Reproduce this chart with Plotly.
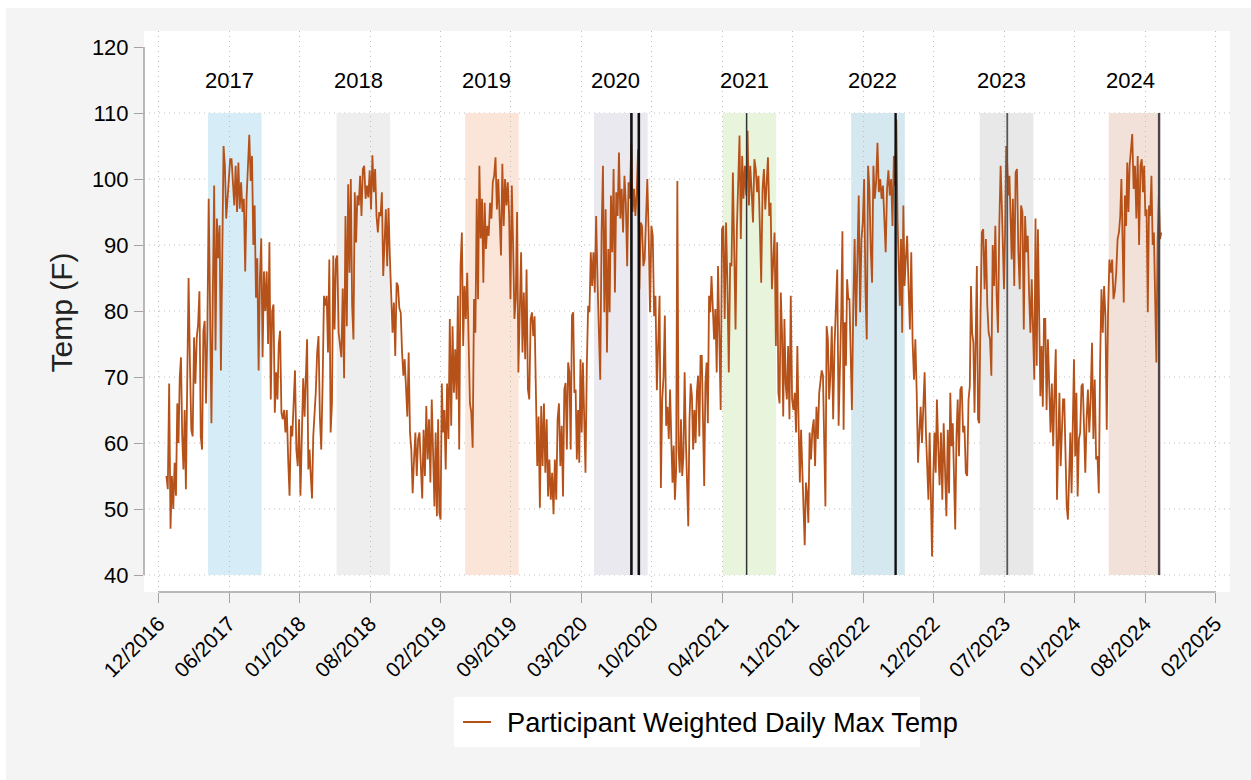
import pandas as pd
import plotly.graph_objects as go

# ---------------- data (°F), one list of readings per calendar month ----------------
t2017 = [
    [55, 53, 69, 47, 55, 50, 57, 52],
    [66, 60, 70, 73, 61, 56, 65, 53],
    [69, 85, 72, 62, 61, 76, 69, 76],
    [78, 83, 61, 59, 77, 78.5, 66, 77],
    [97, 77, 63, 82, 99, 74, 94, 88],
    [93, 71, 90, 105, 102, 94, 97, 100],
    [103, 103, 100, 96, 102, 95, 102.5, 95.5],
    [99.5, 95, 97, 86, 97, 103, 106.7, 99.7],
    [103.5, 90, 96, 82, 88, 71, 85, 91],
    [73, 86, 80, 86, 75, 90.4, 66.6, 80],
    [81, 64.6, 70.7, 66.6, 75, 77, 64.6, 63.6],
    [65, 61.6, 65, 57.5, 52, 62.6, 61, 66],
]
t2018 = [
    [71, 59, 56.5, 63.6, 52, 61, 69.8, 64],
    [71.7, 75.7, 56, 59, 55, 51.6, 61, 64],
    [67.7, 73.7, 76.2, 64, 59, 69, 82.3, 80.8],
    [82.3, 73.7, 87.8, 61.6, 66, 88.4, 77.2, 87.8],
    [88.4, 76.7, 74.7, 73, 83.4, 69.8, 94.4, 77.7],
    [99.2, 85.8, 100, 80.8, 75.7, 98, 90.4, 97.5],
    [96, 100.5, 94.4, 101.5, 102, 97, 99, 97.2],
    [101.3, 95.4, 103.6, 98, 101.5, 94.4, 91.9, 95],
    [94.4, 98, 85.3, 90, 95.4, 86.8, 95.6, 88.4],
    [81.8, 76.7, 81.3, 73.2, 84.3, 83.8, 80.4, 79.8],
    [73.7, 70.2, 72.7, 67.1, 64, 73.7, 61.6, 59],
    [52.4, 57.5, 61.6, 55, 60.6, 61.6, 55.6, 51.6],
]
t2019 = [
    [62, 55, 65.6, 57.5, 63.6, 54, 66.6, 57],
    [50.4, 61.6, 48.9, 63.6, 49.4, 48.4, 69, 61.6],
    [65, 56, 69, 60.6, 78.8, 62.6, 77.7, 67.6],
    [74.2, 66.6, 82.3, 59, 86.8, 91.9, 74.7, 83.8],
    [78.8, 85.8, 72.7, 66, 64.6, 59.3, 81.8, 76.7],
    [97, 81.8, 102, 91, 97, 84.3, 96.4, 89.4],
    [92.9, 91.4, 96.4, 94, 99.5, 100.5, 103.3, 95.4],
    [100, 92.4, 88.4, 102.3, 92.9, 100, 96, 99.5],
    [94.4, 81.8, 99, 90, 78.8, 81.8, 95, 70.7],
    [80.3, 88.9, 73.7, 82.8, 72.7, 86.3, 68.1, 66.6],
    [78.8, 79.8, 76.2, 79.2, 67.6, 56.5, 64, 50.2],
    [65.6, 56.5, 66, 55.5, 63.6, 51.9, 57.5, 51.4],
]
t2020 = [
    [55.5, 49.2, 57.5, 51.4, 63.6, 66, 56.5, 62.6],
    [51.9, 68.1, 69.1, 59, 72.2, 70.7, 59, 79.3],
    [79.8, 67.6, 68.1, 57.5, 65, 57, 72.7, 61.6, 72.2],
    [64, 55.5, 71.7, 80.8, 79.8, 88.9, 83.8, 88.9],
    [82.8, 94.4, 84.8, 75.2, 69.6, 91.9, 102, 79.8],
    [95.4, 73.7, 89.4, 79.8, 97.5, 88.9, 101.5, 82.8],
    [98, 94.4, 104, 94, 98.5, 91.9, 100.5, 96.4],
    [86.8, 99.5, 97, 105.5, 95, 98.5, 94.4, 98],
    [104.5, 83.3, 93.4, 92.9, 86.8, 87.8, 95.4, 100],
    [91.9, 79.8, 92.9, 91.4, 79.2, 82.3, 68, 75.7],
    [82.3, 53.2, 66.6, 70, 79.3, 62.6, 65.5, 60.6],
    [68.1, 60.6, 54, 59.6, 51.4, 56, 99.7, 59, 55.5],
]
t2021 = [
    [63.6, 55, 58, 70.7, 60.6, 54, 47.4, 63.6, 69],
    [67.1, 59, 65, 60, 67.6, 70.2, 61, 73.2],
    [73.2, 63.6, 53.5, 69, 72.2, 63, 82.3, 79.8, 85.3],
    [80.8, 75.7, 80.3, 70.7, 86.8, 77.2, 65, 92.4],
    [92.9, 78.8, 93.4, 83.8, 70.7, 87.3, 86.8, 101],
    [87.8, 77.2, 92.4, 98.5, 106.6, 90.9, 103.5, 97],
    [102, 97.5, 107.3, 96, 102, 98, 93.4, 103],
    [101.5, 98, 100.5, 92.9, 84.3, 98.5, 101.5, 95.4],
    [99.5, 103.3, 94.4, 96.4, 83.3, 88.9, 91.9, 74.7],
    [90.4, 67.6, 66, 82.8, 76.7, 64, 78.8, 69, 66.6],
    [74.7, 63.6, 82.3, 66.6, 65, 67.6, 61.6, 74.7],
    [62.6, 54, 62, 56.5, 49.4, 44.5, 54, 52.4, 47.9],
]
t2022 = [
    [61.6, 57.5, 62, 63.6, 56.5, 65.5, 60.6, 67.6],
    [69, 71, 70.2, 57, 50.4, 77.7, 75.7, 66.6],
    [70.2, 77.7, 63.6, 74.7, 80.8, 86.3, 62.6, 71],
    [79.8, 92.1, 62, 78.3, 71.7, 84.8, 81.8, 81.8, 72.2],
    [65, 80.8, 90.9, 77.7, 90.4, 97.5, 79.8, 90.9],
    [93.4, 100, 83.3, 75.7, 102, 98.5, 89.4, 84.3],
    [102, 97, 99.5, 105.5, 98, 100, 97, 99],
    [94, 88.9, 98.5, 101.3, 97.5, 100, 92.9, 103.5],
    [99, 109, 94, 84.8, 80.8, 90.9, 76.7, 96, 83.8],
    [87.8, 91.4, 83.8, 77.2, 88.9, 75.2, 69.6, 75.7],
    [67.6, 57, 61.6, 65.5, 60, 66, 70.7, 61.6],
    [56.5, 51.4, 61.6, 52.4, 42.8, 55, 61.6, 55.5, 66.6],
]
t2023 = [
    [59.5, 53.6, 61.6, 51.4, 63, 54, 48.9, 62],
    [52.4, 67.6, 59.5, 63, 51.9, 46.9, 61, 66.6],
    [58, 68.1, 68.6, 61.6, 62.6, 55.5, 55, 66.6],
    [68.6, 83.8, 76.7, 75.2, 64.6, 80.3, 86.8, 63.6, 63],
    [79.3, 91.9, 92.4, 83.3, 90.9, 80.8, 76.7, 75.7],
    [70.2, 90, 83.8, 92.9, 82.3, 76.7, 92.9, 102],
    [96, 90.9, 83.3, 92, 105, 102, 97.5, 100.5, 90.9, 87.8],
    [97, 83.8, 101, 101.5, 88.9, 83.3, 96, 95],
    [77.2, 94.4, 88.9, 91.4, 82.8, 76.7, 84.8, 77.2],
    [69.6, 94, 71.7, 92.4, 76.7, 67.1, 74.7, 65.5, 78.8],
    [78.8, 65, 75.7, 68.6, 61.6, 69, 59.5, 68.1],
    [74.2, 51.4, 60, 67.6, 56.5, 61.6, 66.6, 66.6, 56.5],
]
t2024 = [
    [50.4, 48.4, 55.5, 61.6, 52.4, 63, 72.7, 58, 67.6],
    [51.9, 60.6, 61.6, 68.6, 69, 61.6, 55.5, 63.6],
    [68.1, 61.6, 66.6, 75.2, 60.6, 69.6, 57.5, 58],
    [52.4, 72.2, 83.3, 76.7, 83.8, 79.3, 62, 79.8],
    [87.8, 85.8, 87.8, 81.8, 83, 85.8, 90.9, 91.9],
    [94.4, 100, 89.4, 81.3, 97.5, 92.9, 102.5, 95, 102],
    [104, 106.8, 98.5, 102, 94, 103.5, 90, 102],
    [103, 98, 102, 94.4, 95.4, 79.8, 96, 94.4, 100.5],
    [90, 91.9, 82.3, 72.2, 90.4, 97.5, 90.9, 91.9],
]
series_years = [2017, 2018, 2019, 2020, 2021, 2022, 2023, 2024]
series_months = [t2017, t2018, t2019, t2020, t2021, t2022, t2023, t2024]
data_end = "2024-09-28"

# warm-season bands, labels and marker lines
band_years = [2017, 2018, 2019, 2020, 2021, 2022, 2023, 2024]
band_starts = ["2017-05-01", "2018-05-01", "2019-05-01", "2020-05-01",
               "2021-05-01", "2022-05-01", "2023-05-01", "2024-05-01"]
band_ends = ["2017-09-30", "2018-09-30", "2019-09-30", "2020-09-30",
             "2021-09-30", "2022-09-30", "2023-09-30", "2024-09-21"]
band_colors = ["#d6edf8", "#eeeeee", "#fbe5d9", "#ebe9f0",
               "#e9f4dc", "#d5e7ef", "#e8e8e8", "#f2e1d9"]
label_dates = ["2017-07-01", "2018-07-01", "2019-07-01", "2020-07-01",
               "2021-07-01", "2022-07-01", "2023-07-01", "2024-07-01"]
event_dates = ["2020-08-15", "2020-09-05", "2021-07-08", "2022-09-04", "2023-07-18", "2024-09-21"]
event_colors = ["#111111", "#111111", "#333333", "#111111", "#555555", "#4d4545"]
event_widths = [2.6, 2.6, 1.5, 2.4, 1.8, 2.4]

x_tick_start = "2016-12-12"
x_tick_step_days = 200
x_tick_labels = ["12/2016", "06/2017", "01/2018", "08/2018", "02/2019", "09/2019",
                 "03/2020", "10/2020", "04/2021", "11/2021", "06/2022", "12/2022",
                 "07/2023", "01/2024", "08/2024", "02/2025"]
y_ticks = [40, 50, 60, 70, 80, 90, 100, 110, 120]
y_grid = [40, 50, 60, 70, 80, 90, 100, 110]

# ---------------- build series ----------------
xs, ys = [], []
end_ts = pd.Timestamp(data_end)
for year, months in zip(series_years, series_months):
    for mi, vals in enumerate(months):
        start = pd.Timestamp(year=year, month=mi + 1, day=1)
        ndays = start.days_in_month
        if start.year == end_ts.year and start.month == end_ts.month:
            ndays = end_ts.day
        step = ndays / len(vals)
        for i, v in enumerate(vals):
            xs.append(start + pd.Timedelta(days=(i + 0.5) * step))
            ys.append(v)

tick0 = pd.Timestamp(x_tick_start)
tick_dates = [tick0 + pd.Timedelta(days=x_tick_step_days * k) for k in range(len(x_tick_labels))]

# ---------------- geometry ----------------
W, H = 1251, 780
L, R, T, B = 144, 21, 31, 188
PW, PH = W - L - R, H - T - B
FONT = "Liberation Sans, Arial, sans-serif"
LINE_COLOR = "#b65219"
AXIS_COLOR = "#a3a3a3"
GRID_COLOR = "#bdbdbd"


def px_x(px):
    return (px - L) / PW


def px_y(py):
    return (H - B - py) / PH


px_per_day = 70.45 / x_tick_step_days
x_lo = tick0 + pd.Timedelta(days=(L - 158.7) / px_per_day)
x_hi = tick0 + pd.Timedelta(days=(W - R - 158.7) / px_per_day)
y_per_px = 10 / 66.0
y_lo = 40 - (H - B - 575) * y_per_px
y_hi = 120 + (47 - T) * y_per_px

fig = go.Figure()
fig.add_trace(go.Scatter(
    x=xs, y=ys, mode="lines", name="Participant Weighted Daily Max Temp",
    line=dict(color=LINE_COLOR, width=1.8), showlegend=False, hoverinfo="skip"))

shapes = []
# white edge strips at top/left of image
shapes.append(dict(type="rect", xref="paper", yref="paper", x0=px_x(0), x1=px_x(W),
                   y0=px_y(8), y1=px_y(0), fillcolor="white", line=dict(width=0), layer="below"))
shapes.append(dict(type="rect", xref="paper", yref="paper", x0=px_x(0), x1=px_x(6),
                   y0=px_y(H), y1=px_y(0), fillcolor="white", line=dict(width=0), layer="below"))
# bands
for s, e, c in zip(band_starts, band_ends, band_colors):
    shapes.append(dict(type="rect", xref="x", yref="y", x0=s, x1=e, y0=40, y1=110,
                       fillcolor=c, line=dict(width=0), layer="below"))
# horizontal grid
for v in y_grid:
    shapes.append(dict(type="line", xref="paper", yref="y", x0=0, x1=1, y0=v, y1=v,
                       line=dict(color=GRID_COLOR, width=1, dash="1px,4px"), layer="between"))
# event lines
for d, c, w in zip(event_dates, event_colors, event_widths):
    shapes.append(dict(type="line", xref="x", yref="y", x0=d, x1=d, y0=40, y1=110,
                       line=dict(color=c, width=w), layer="above"))
# axis lines
shapes.append(dict(type="line", xref="paper", yref="y", x0=0, x1=0, y0=y_ticks[0], y1=y_ticks[-1],
                   line=dict(color=AXIS_COLOR, width=1.5), layer="above"))
shapes.append(dict(type="line", xref="x", yref="paper", x0=tick_dates[0], x1=tick_dates[-1], y0=0, y1=0,
                   line=dict(color=AXIS_COLOR, width=1.5), layer="above"))
# legend box + key
shapes.append(dict(type="rect", xref="paper", yref="paper", x0=px_x(454), x1=px_x(920),
                   y0=px_y(747), y1=px_y(697), fillcolor="white", line=dict(width=0), layer="above"))
shapes.append(dict(type="line", xref="paper", yref="paper", x0=px_x(463), x1=px_x(491),
                   y0=px_y(722), y1=px_y(722), line=dict(color=LINE_COLOR, width=2), layer="above"))

annotations = []
for yr, d in zip(band_years, label_dates):
    annotations.append(dict(x=d, y=115, xref="x", yref="y", text=str(yr), showarrow=False,
                            font=dict(size=22, family=FONT, color="black"),
                            xanchor="center", yanchor="middle"))
annotations.append(dict(x=px_x(61), y=px_y(312.5), xref="paper", yref="paper", text="Temp (F)",
                        showarrow=False, textangle=-90,
                        font=dict(size=30, family=FONT, color="#222222"),
                        xanchor="center", yanchor="middle"))
annotations.append(dict(x=px_x(505), y=px_y(722), xref="paper", yref="paper",
                        text="Participant Weighted Daily Max Temp", showarrow=False,
                        font=dict(size=27.2, family=FONT, color="black"),
                        xanchor="left", yanchor="middle"))

fig.update_layout(
    width=W, height=H,
    margin=dict(l=L, r=R, t=T, b=B, pad=0, autoexpand=False),
    paper_bgcolor="#f4f4f4", plot_bgcolor="white",
    showlegend=False, hovermode=False,
    font=dict(family=FONT, color="black"),
    shapes=shapes, annotations=annotations,
    xaxis=dict(type="date", range=[x_lo, x_hi], tickmode="array", tickvals=tick_dates,
               ticktext=x_tick_labels, tickangle=-45, ticks="outside", ticklen=10,
               tickwidth=1.3, tickcolor=AXIS_COLOR, showline=False, zeroline=False,
               showgrid=True, gridcolor=GRID_COLOR, griddash="1px,4px", gridwidth=1,
               tickfont=dict(size=21, family=FONT, color="black"), automargin=False,
               fixedrange=True),
    yaxis=dict(range=[y_lo, y_hi], tickmode="array", tickvals=y_ticks,
               ticktext=[str(v) for v in y_ticks], ticks="outside", ticklen=9,
               tickwidth=1.3, tickcolor=AXIS_COLOR, showline=False, zeroline=False,
               showgrid=False, tickfont=dict(size=22, family=FONT, color="black"),
               automargin=False, fixedrange=True, ticklabelstandoff=1),
)

fig.write_html("out.html", config={"displayModeBar": False},
               post_script="document.body.style.margin='0';document.body.style.overflow='hidden';")
